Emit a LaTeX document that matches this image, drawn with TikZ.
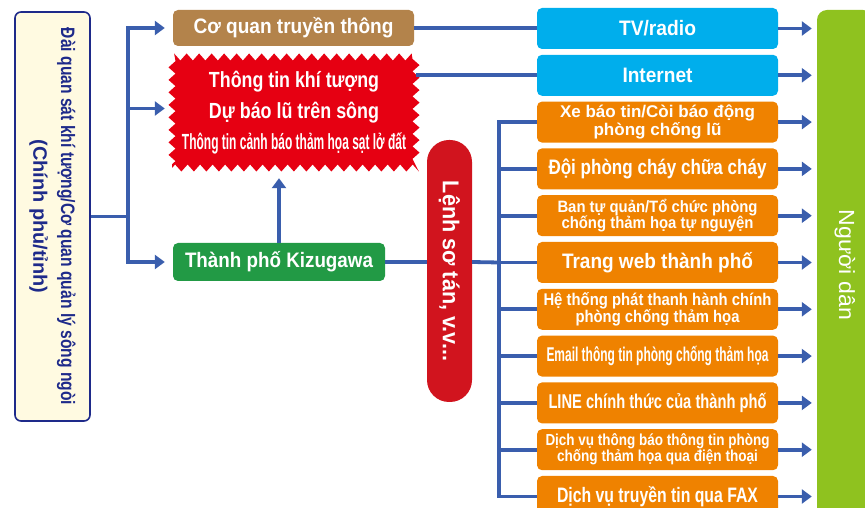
\documentclass[tikz,border=0pt]{standalone}
\usepackage{fontspec}
\setmainfont{Liberation Sans}
\usepackage{graphicx}
\usetikzlibrary{arrows.meta,decorations.pathmorphing}
\definecolor{LineBlue}{HTML}{3A5EAD}
\definecolor{Navy}{HTML}{1E2A8A}
\definecolor{Cream}{HTML}{FFFAE1}
\definecolor{MediaBrown}{HTML}{B3834B}
\definecolor{WarnRed}{HTML}{E60012}
\definecolor{PillRed}{HTML}{D1141E}
\definecolor{CityGreen}{HTML}{229A45}
\definecolor{SkyBlue}{HTML}{00AEEC}
\definecolor{OrangeBox}{HTML}{EF8200}
\definecolor{PeopleGreen}{HTML}{8FC21F}
% squeeze one line of text to a given width
\newcommand{\nar}[2]{\resizebox{#1}{\height}{#2}}
\newcommand{\fs}[2]{\fontsize{#1}{#2}\selectfont}

\begin{document}
\begin{tikzpicture}[>={Triangle[length=10bp,width=14bp]}, line join=miter,
  link/.style={draw=LineBlue, line width=3.8bp},
  box/.style={rounded corners=5bp, text=white, inner sep=0pt, font=\bfseries},
  obox/.style={box, fill=OrangeBox, minimum width=241bp, minimum height=41bp, align=center},
  bbox/.style={box, fill=SkyBlue, minimum width=241bp, minimum height=41bp}]
%%
\useasboundingbox (0bp,0bp) rectangle (865bp,508bp);
%
\node (obs) at (52.5bp,291.5bp) [rotate=-90,draw=Navy,line width=1.6bp,fill=Cream,rounded corners=6bp,
  minimum width=409bp,minimum height=75bp,inner sep=0pt,align=center,text=Navy,font=\bfseries\fs{19.5}{28}]
  {\nar{377bp}{Đài quan sát khí tượng/Cơ quan quản lý sông ngòi}\\ \nar{154bp}{(Chính phủ/tỉnh)}};
\node (media) at (293.5bp,480bp) [box,fill=MediaBrown,minimum width=241bp,minimum height=36bp]
  {\fs{21}{21}\nar{200bp}{Cơ quan truyền thông}};
\node (warn) at (294bp,395.5bp) [fill=WarnRed,decorate,decoration={zigzag,segment length=12.5bp,amplitude=3.5bp},
  minimum width=244bp,minimum height=111bp,inner sep=0pt,text=white,align=center,font=\bfseries\fs{22}{31}]
  {\nar{170bp}{Thông tin khí tượng}\\ \nar{170bp}{Dự báo lũ trên sông}\\ \nar{224bp}{Thông tin cảnh báo thảm họa sạt lở đất}};
\node (city) at (279bp,246bp) [box,fill=CityGreen,minimum width=212bp,minimum height=38bp]
  {\fs{21}{21}\nar{188bp}{Thành phố Kizugawa}};
\node (order) at (449.5bp,237bp) [rotate=-90,fill=PillRed,rounded corners=22bp,minimum width=262bp,
  minimum height=45bp,inner sep=0pt,text=white,font=\bfseries\fs{23}{23}] {\nar{180bp}{Lệnh sơ tán, v.v...}};
\node (people) at (845bp,243bp) [rotate=-90,fill=PeopleGreen,rounded corners=10bp,minimum width=510bp,
  minimum height=56bp,inner sep=0pt,text=white,font=\fs{22}{22}] {\nar{110bp}{Người dân}};
%
\node (tv) at (657.5bp,479.5bp) [bbox] {\fs{21}{21}\nar{77bp}{TV/radio}};
\node (inet) at (657.5bp,432.7bp) [bbox] {\fs{21}{21}\nar{70bp}{Internet}};
\node (o1) at (657.5bp,385.9bp) [obox,font=\bfseries\fs{17}{16.5}]
  {\nar{195bp}{Xe báo tin/Còi báo động}\\ \nar{128bp}{phòng chống lũ}};
\node (o2) at (657.5bp,339.1bp) [obox,font=\bfseries\fs{21}{21}] {\nar{218bp}{Đội phòng cháy chữa cháy}};
\node (o3) at (657.5bp,292.3bp) [obox,font=\bfseries\fs{16.5}{16.5}]
  {\nar{200bp}{Ban tự quản/Tổ chức phòng}\\ \nar{192bp}{chống thảm họa tự nguyện}};
\node (o4) at (657.5bp,245.5bp) [obox,font=\bfseries\fs{21}{21}] {\nar{191bp}{Trang web thành phố}};
\node (o5) at (657.5bp,198.7bp) [obox,font=\bfseries\fs{17}{16.5}]
  {\nar{228bp}{Hệ thống phát thanh hành chính}\\ \nar{164bp}{phòng chống thảm họa}};
\node (o6) at (657.5bp,151.9bp) [obox,font=\bfseries\fs{20}{20}] {\nar{222bp}{Email thông tin phòng chống thảm họa}};
\node (o7) at (657.5bp,105.1bp) [obox,font=\bfseries\fs{20}{20}] {\nar{218bp}{LINE chính thức của thành phố}};
\node (o8) at (657.5bp,58.3bp) [obox,font=\bfseries\fs{16}{16}]
  {\nar{224bp}{Dịch vụ thông báo thông tin phòng}\\ \nar{201bp}{chống thảm họa qua điện thoại}};
\node (o9) at (657.5bp,11.5bp) [obox,font=\bfseries\fs{21}{21}] {\nar{201bp}{Dịch vụ truyền tin qua FAX}};
%
\draw [link] (obs.north) -- ++(37bp,0) coordinate (jL);
\draw [link,->,shorten >=8bp] (jL) |- (media.west);
\draw [link,->,shorten >=7bp] (jL) |- ([yshift=4bp]warn.west);
\draw [link,->,shorten >=8bp] (jL) |- (city.west);
\draw [link,->,shorten >=10bp] (city.north) -- (city.north |- warn.south);
\draw [link] (media.east) -- (media.east -| tv.west);
\draw [link] (warn.east |- inet.west) -- (inet.west);
\draw [link] (city.east) -- (city.east -| order.south);
\coordinate (jR) at (499bp,245.5bp);
\draw [link] (city.east -| order.north) -- (jR);
\draw [link] (o1.west) -| (jR) |- (o9.west);
\foreach \b in {o2,o3,o4,o5,o6,o7,o8}
  \draw [link] (jR |- \b.west) -- (\b.west);
\foreach \b in {tv,inet,o1,o2,o3,o4,o5,o6,o7,o8,o9}
  \draw [link,->,shorten >=5bp] (\b.east) -- (\b.east -| people.south);
%
\end{tikzpicture}
\end{document}
